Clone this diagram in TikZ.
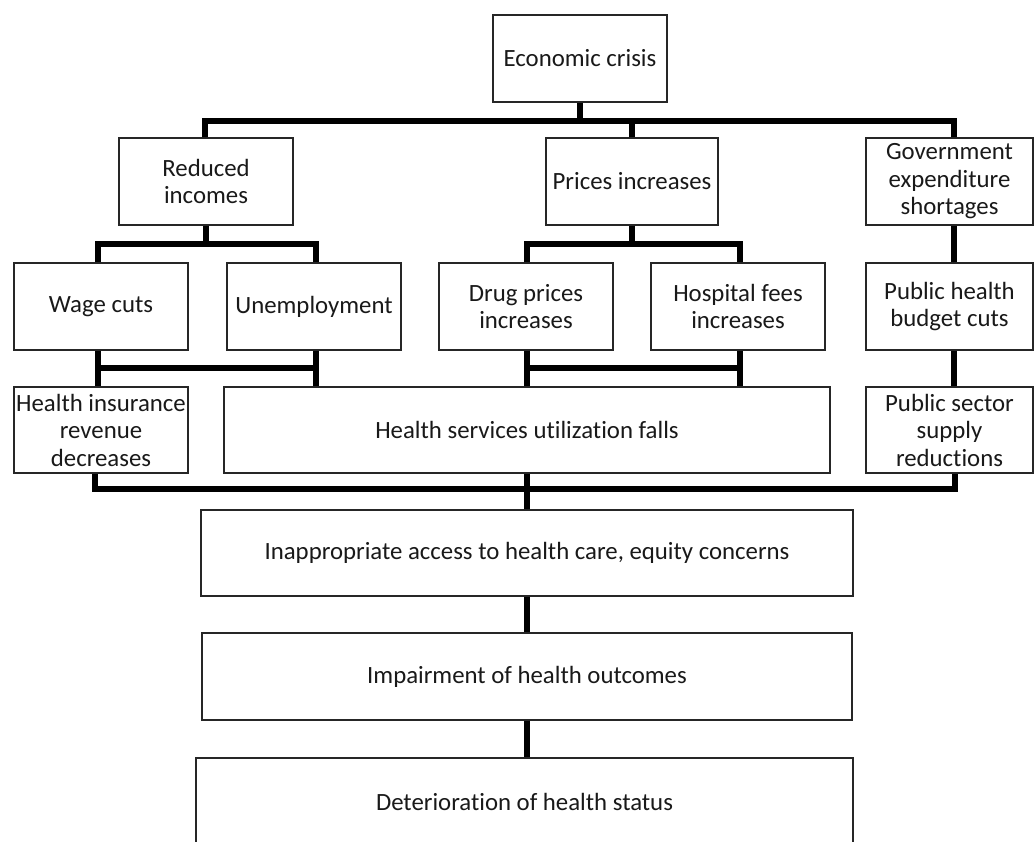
\documentclass[tikz,border=0pt]{standalone}
\usepackage{fontspec}
\setmainfont{Carlito}[Ligatures=NoCommon]
\begin{document}
\begin{tikzpicture}[x=1pt,y=-1pt,
  box/.style={draw=black!85,line width=1.3pt,fill=white,inner sep=1pt,
    align=center,font=\fontsize{24.8}{27.5}\selectfont,text=black!90},
  link/.style={line width=6pt,black,line cap=butt}]
\useasboundingbox (0,0) rectangle (1034,842);
\begin{scope}
\clip (0,0) rectangle (1034,842);
% boxes, placed by centre with pixel sizes
\node[box,minimum width=174,minimum height=87] (ec) at (580,58.5) {Economic crisis};
\node[box,minimum width=174,minimum height=87] (ri) at (206,181.5) {Reduced\\incomes};
\node[box,minimum width=172,minimum height=87] (pi) at (632,181.5) {Prices increases};
\node[box,minimum width=167,minimum height=87] (ge) at (949.5,181.5) {Government\\expenditure\\shortages};
\node[box,minimum width=174,minimum height=87] (wc) at (101,306.5) {Wage cuts};
\node[box,minimum width=174,minimum height=87] (un) at (314,306.5) {Unemployment};
\node[box,minimum width=174,minimum height=87] (dp) at (526,306.5) {Drug prices\\increases};
\node[box,minimum width=174,minimum height=87] (hf) at (738,306.5) {Hospital fees\\increases};
\node[box,minimum width=167,minimum height=87] (ph) at (949.5,306.5) {Public health\\budget cuts};
\node[box,minimum width=174,minimum height=86] (hi) at (101,430) {Health insurance\\revenue\\decreases};
\node[box,minimum width=606,minimum height=86] (hs) at (527,430) {Health services utilization falls};
\node[box,minimum width=167,minimum height=86] (ps) at (949.5,430) {Public sector\\supply\\reductions};
\node[box,minimum width=652,minimum height=86] (ia) at (527,553) {Inappropriate access to health care, equity concerns};
\node[box,minimum width=650,minimum height=87] (io) at (527,676.5) {Impairment of health outcomes};
\node[box,minimum width=657,minimum height=87] (dh) at (524.5,801.5) {Deterioration of health status};

% junction rows of the bar trees
\coordinate (r1) at (0,121);
\coordinate (r2) at (0,244);
\coordinate (r3) at (0,368);
\coordinate (r4) at (0,489);

% economic crisis splits into three causes
\draw[link] (ec.south) -- (ec.south |- r1);
\draw[link] ([xshift=-1pt]ri.north) -- ([xshift=-1pt]ri.north |- r1) -| ([xshift=4.5pt]ge.north);
\draw[link] (pi.north) -- (pi.north |- r1);

% reduced incomes
\draw[link] (ri.south) -- (ri.south |- r2);
\draw[link] ([xshift=-3pt]wc.north) -- ([xshift=-3pt]wc.north |- r2) -| ([xshift=2pt]un.north);
% prices increases
\draw[link] (pi.south) -- (pi.south |- r2);
\draw[link] ([xshift=1pt]dp.north) -- ([xshift=1pt]dp.north |- r2) -| ([xshift=2pt]hf.north);
% government chain
\draw[link] ([xshift=4.5pt]ge.south) -- ([xshift=4.5pt]ph.north);
\draw[link] ([xshift=4.5pt]ph.south) -- ([xshift=4.5pt]ps.north);

% wage cuts and unemployment
\draw[link] ([xshift=-3pt]wc.south) -- ([xshift=-3pt]hi.north);
\draw[link] ([xshift=2pt]un.south) -- ([xshift=2pt]un.south |- hs.north);
\draw[link] ([xshift=-3pt]wc.south |- r3) -- ([xshift=2pt]un.south |- r3);
% drug prices and hospital fees
\draw[link] ([xshift=1pt]dp.south) -- ([xshift=1pt]dp.south |- hs.north);
\draw[link] ([xshift=2pt]hf.south) -- ([xshift=2pt]hf.south |- hs.north);
\draw[link] ([xshift=1pt]dp.south |- r3) -- ([xshift=2pt]hf.south |- r3);

% three consequences merge
\draw[link] ([xshift=-6pt]hi.south) -- ([xshift=-6pt]hi.south |- r4) -| ([xshift=5.5pt]ps.south);
\draw[link] (hs.south) -- (ia.north);
\draw[link] (ia.south) -- (io.north);
\draw[link] (io.south) -- (io.south |- dh.north);
\end{scope}
\end{tikzpicture}
\end{document}
